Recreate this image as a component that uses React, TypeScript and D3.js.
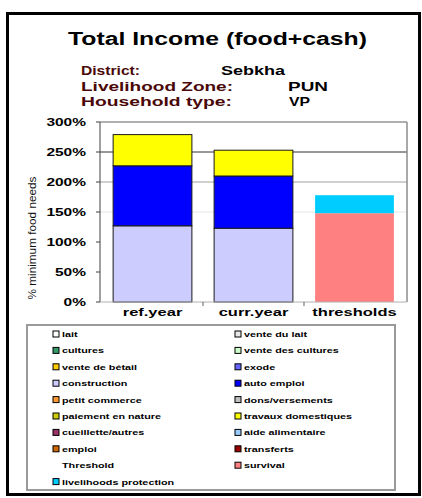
import React from "react";
import * as d3 from "d3";

// categories on the x axis
const categories = ["ref.year", "curr.year", "thresholds"];

// legend entries, in the order of the source sheet
const seriesNames = [
  "lait", "vente du lait", "cultures", "vente des cultures", "vente de bétail", "exode",
  "construction", "auto emploi", "petit commerce", "dons/versements", "paiement en nature",
  "travaux domestiques", "cueillette/autres", "aide alimentaire", "emploi", "transferts",
  "Threshold", "survival", "livelihoods protection",
];
const seriesColors = [
  "#FFFFFF", "#E8E8E8", "#339966", "#CCFFCC", "#FFCC00", "#6666FF",
  "#CCCCFF", "#0000FF", "#FF9933", "#C0C0C0", "#CCCC00",
  "#FFFF00", "#993366", "#99CCFF", "#CC6600", "#990000",
  "none", "#FF8080", "#00CCFF",
];

// % of minimum food needs, per category
const construction = [127, 123, 0];
const autoEmploi = [100, 87, 0];
const travauxDomestiques = [52, 43, 0];
const survival = [0, 0, 148];
const livelihoodsProtection = [0, 0, 30];

const yTicks = [0, 50, 100, 150, 200, 250, 300];

const seriesValues: Record<string, number[]> = {
  construction: construction,
  "auto emploi": autoEmploi,
  "travaux domestiques": travauxDomestiques,
  survival: survival,
  "livelihoods protection": livelihoodsProtection,
};

const FONT = "'Liberation Sans', Arial, Helvetica, sans-serif";

// stretched text (the source picture is wider than its fonts)
const Txt = ({ x, y, size, sx = 1, anchor = "start", weight = "bold", fill = "#000", children }: any) => (
  <text
    transform={`translate(${x},${y}) scale(${sx},1)`}
    fontSize={size}
    fontWeight={weight}
    fontFamily={FONT}
    textAnchor={anchor}
    fill={fill}
  >
    {children}
  </text>
);

const FitTxt = ({ x, y, size, len, anchor = "start", fill = "#000", weight = "bold", children }: any) => (
  <text
    x={x}
    y={y}
    fontSize={size}
    fontWeight={weight}
    fontFamily={FONT}
    textAnchor={anchor}
    fill={fill}
    textLength={len}
    lengthAdjust="spacingAndGlyphs"
  >
    {children}
  </text>
);

export default function App() {
  const width = 422;
  const height = 498;
  const plot = { left: 100, right: 407, top: 122, bottom: 302 };

  const x = d3
    .scaleBand()
    .domain(categories)
    .range([plot.left, plot.right])
    .paddingInner(0.22)
    .paddingOuter(0.13);

  const y = d3.scaleLinear().domain([0, 300]).range([plot.bottom, plot.top]);

  const rows = categories.map((c, i) => {
    const r: any = { cat: c };
    seriesNames.forEach((s) => {
      r[s] = seriesValues[s] ? seriesValues[s][i] : 0;
    });
    return r;
  });
  const stacked = d3.stack<any>().keys(seriesNames)(rows);

  const gridColor = (t: number) =>
    t === 250 ? "#303030" : t === 200 ? "#a0a0a0" : t === 150 ? "#e6e6e6" : t === 300 ? "#606060" : "none";

  const step = x.step();
  const gap = step - x.bandwidth();
  const boundaries = categories.slice(0, -1).map((c) => (x(c) as number) + x.bandwidth() + gap / 2);

  const legend = { x0: 53, x1: 235, y0: 334, dy: 16.4 };

  return (
    <svg
      width={width}
      height={height}
      style={{ position: "absolute", left: 0, top: 0, background: "#fff" }}
    >
      {/* outer frame */}
      <rect x={7.5} y={13.5} width={412} height={481} fill="#fff" stroke="#000" strokeWidth={3} />

      {/* titles */}
      <FitTxt x={68} y={45} size={18} len={299}>
        Total Income (food+cash)
      </FitTxt>
      <FitTxt x={81} y={75} size={12.5} len={59} fill="#4a0808">District:</FitTxt>
      <FitTxt x={221} y={75} size={12.5} len={64}>Sebkha</FitTxt>
      <FitTxt x={81} y={91} size={12.5} len={152} fill="#4a0808">Livelihood Zone:</FitTxt>
      <FitTxt x={288} y={91} size={12.5} len={40}>PUN</FitTxt>
      <FitTxt x={81} y={106} size={12.5} len={151} fill="#4a0808">Household type:</FitTxt>
      <FitTxt x={289} y={106} size={12.5} len={21}>VP</FitTxt>

      {/* grid lines */}
      {yTicks.map((t) => (
        <line
          key={"g" + t}
          x1={plot.left}
          x2={plot.right}
          y1={y(t)}
          y2={y(t)}
          stroke={gridColor(t)}
          strokeWidth={1}
        />
      ))}
      <line x1={plot.right} x2={plot.right} y1={plot.top} y2={plot.bottom} stroke="#8c8c8c" strokeWidth={1.5} />

      {/* bars */}
      {stacked.map((layer, si) =>
        layer.map((d, ci) => {
          if (d[1] - d[0] <= 0) return null;
          const cat = categories[ci];
          return (
            <rect
              key={layer.key + cat}
              x={x(cat)}
              y={y(d[1])}
              width={x.bandwidth()}
              height={y(d[0]) - y(d[1])}
              fill={seriesColors[si]}
              stroke={cat === "thresholds" ? "none" : "#1a1a1a"}
              strokeWidth={1}
            />
          );
        })
      )}

      {/* y axis */}
      <line x1={plot.left} x2={plot.left} y1={plot.top} y2={plot.bottom} stroke="#404040" strokeWidth={1} />
      {yTicks.map((t) => (
        <g key={"t" + t}>
          <line x1={plot.left - 4} x2={plot.left} y1={y(t)} y2={y(t)} stroke="#404040" />
          <Txt x={86} y={y(t) + 3.5} size={10} sx={1.55} anchor="end">
            {t + "%"}
          </Txt>
        </g>
      ))}
      <text
        transform={`translate(36,238) rotate(-90)`}
        fontSize={10}
        fontFamily={FONT}
        textAnchor="middle"
        textLength={123}
        lengthAdjust="spacingAndGlyphs"
        fill="#111"
      >
        % minimum food needs
      </text>

      {/* x axis */}
      <line x1={plot.left} x2={plot.right} y1={plot.bottom} y2={plot.bottom} stroke="#b0b0b0" />
      {boundaries.map((b) => (
        <line key={"b" + b} x1={b} x2={b} y1={plot.bottom} y2={plot.bottom + 4} stroke="#606060" />
      ))}
      {categories.map((c) => (
        <Txt key={"x" + c} x={(x(c) as number) + x.bandwidth() / 2} y={316} size={11} sx={1.5} anchor="middle">
          {c}
        </Txt>
      ))}

      {/* legend */}
      <rect x={27} y={325} width={368} height={165} fill="#fff" stroke="#9a9a9a" strokeWidth={2} />
      {seriesNames.map((s, i) => {
        const lx = i % 2 === 0 ? legend.x0 : legend.x1;
        const ly = legend.y0 + Math.floor(i / 2) * legend.dy;
        return (
          <g key={"l" + s}>
            {seriesColors[i] !== "none" && (
              <rect x={lx} y={ly - 3} width={6} height={6} fill={seriesColors[i]} stroke="#000" strokeWidth={1} />
            )}
            <Txt x={lx + 9} y={ly + 3} size={8} sx={1.35}>
              {s}
            </Txt>
          </g>
        );
      })}
    </svg>
  );
}
